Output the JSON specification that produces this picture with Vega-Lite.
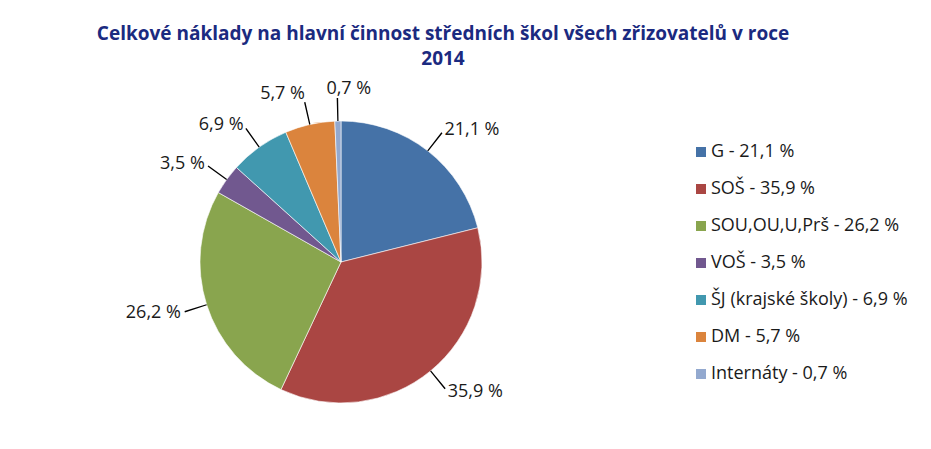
{
  "$schema": "https://vega.github.io/schema/vega-lite/v6.json",
  "autosize": {"type": "none"},
  "width": 282,
  "height": 282,
  "padding": {"left": 200, "top": 121, "right": 449, "bottom": 46},
  "background": "#ffffff",
  "config": {
    "view": {"stroke": null},
    "font": "Open Sans"
  },
  "title": {
    "text": ["Celkové náklady na hlavní činnost středních škol všech zřizovatelů v roce", "2014"],
    "frame": "group",
    "anchor": "middle",
    "dx": 102,
    "offset": 11,
    "font": "Open Sans",
    "fontSize": 19,
    "fontWeight": "bold",
    "lineHeight": 25,
    "color": "#1B2A80"
  },
  "data": {
    "values": [
      {"poradi": 1, "kategorie": "G", "popis": "G - 21,1 %", "podil": 21.1},
      {"poradi": 2, "kategorie": "SOŠ", "popis": "SOŠ - 35,9 %", "podil": 35.9},
      {"poradi": 3, "kategorie": "SOU,OU,U,Prš", "popis": "SOU,OU,U,Prš - 26,2 %", "podil": 26.2},
      {"poradi": 4, "kategorie": "VOŠ", "popis": "VOŠ - 3,5 %", "podil": 3.5},
      {"poradi": 5, "kategorie": "ŠJ (krajské školy)", "popis": "ŠJ (krajské školy) - 6,9 %", "podil": 6.9},
      {"poradi": 6, "kategorie": "DM", "popis": "DM - 5,7 %", "podil": 5.7},
      {"poradi": 7, "kategorie": "Internáty", "popis": "Internáty - 0,7 %", "podil": 0.7}
    ]
  },
  "transform": [
    {"calculate": "replace(format(datum.podil, '.1f'), '.', ',') + ' %'", "as": "popisek"},
    {"window": [{"op": "sum", "field": "podil", "as": "kumul"}], "sort": [{"field": "poradi"}]},
    {"calculate": "datum.kumul - datum.podil / 2", "as": "stred"}
  ],
  "layer": [
    {
      "mark": {"type": "arc", "outerRadius": 141, "stroke": "#ffffff", "strokeWidth": 0.6},
      "encoding": {
        "theta": {"field": "podil", "type": "quantitative", "stack": true, "scale": {"domain": [0, 100]}},
        "order": {"field": "poradi", "type": "quantitative"},
        "color": {
          "field": "popis",
          "type": "nominal",
          "scale": {
            "domain": ["G - 21,1 %", "SOŠ - 35,9 %", "SOU,OU,U,Prš - 26,2 %", "VOŠ - 3,5 %", "ŠJ (krajské školy) - 6,9 %", "DM - 5,7 %", "Internáty - 0,7 %"],
            "range": ["#4572A7", "#AA4643", "#89A54E", "#71588F", "#4198AF", "#DB843D", "#93A9CF"]
          },
          "legend": {
            "title": null,
            "orient": "none",
            "legendX": 492,
            "legendY": 22,
            "padding": 0,
            "symbolType": "square",
            "symbolSize": 100,
            "symbolStrokeWidth": 0,
            "labelFont": "Open Sans",
            "labelFontSize": 18,
            "labelColor": "#1a1a1a",
            "labelOffset": 1,
            "rowPadding": 19,
            "labelLimit": 300
          }
        }
      }
    },
    {
      "transform": [
        {"calculate": "datum.stred - 0.07", "as": "t1"},
        {"calculate": "datum.stred + 0.07", "as": "t2"}
      ],
      "mark": {"type": "arc", "outerRadius": 164, "innerRadius": 141, "color": "#000000"},
      "encoding": {
        "theta": {"field": "t1", "type": "quantitative", "scale": {"domain": [0, 100]}},
        "theta2": {"field": "t2"}
      }
    },
    {
      "transform": [{"filter": "datum.poradi <= 2"}],
      "mark": {"type": "text", "radius": 168, "align": "left", "baseline": "middle", "fontSize": 18, "color": "#1a1a1a", "font": "Open Sans"},
      "encoding": {
        "theta": {"field": "stred", "type": "quantitative", "scale": {"domain": [0, 100]}},
        "text": {"field": "popisek"}
      }
    },
    {
      "transform": [{"filter": "datum.poradi >= 3 && datum.poradi <= 5"}],
      "mark": {"type": "text", "radius": 168, "align": "right", "baseline": "middle", "fontSize": 18, "color": "#1a1a1a", "font": "Open Sans"},
      "encoding": {
        "theta": {"field": "stred", "type": "quantitative", "scale": {"domain": [0, 100]}},
        "text": {"field": "popisek"}
      }
    },
    {
      "transform": [{"filter": "datum.poradi == 6"}],
      "mark": {"type": "text", "radius": 163, "align": "right", "baseline": "bottom", "fontSize": 18, "color": "#1a1a1a", "font": "Open Sans"},
      "encoding": {
        "theta": {"field": "stred", "type": "quantitative", "scale": {"domain": [0, 100]}},
        "text": {"field": "popisek"}
      }
    },
    {
      "transform": [{"filter": "datum.poradi == 7"}],
      "mark": {"type": "text", "radius": 164, "align": "left", "baseline": "bottom", "dx": -11, "fontSize": 18, "color": "#1a1a1a", "font": "Open Sans"},
      "encoding": {
        "theta": {"field": "stred", "type": "quantitative", "scale": {"domain": [0, 100]}},
        "text": {"field": "popisek"}
      }
    }
  ]
}
